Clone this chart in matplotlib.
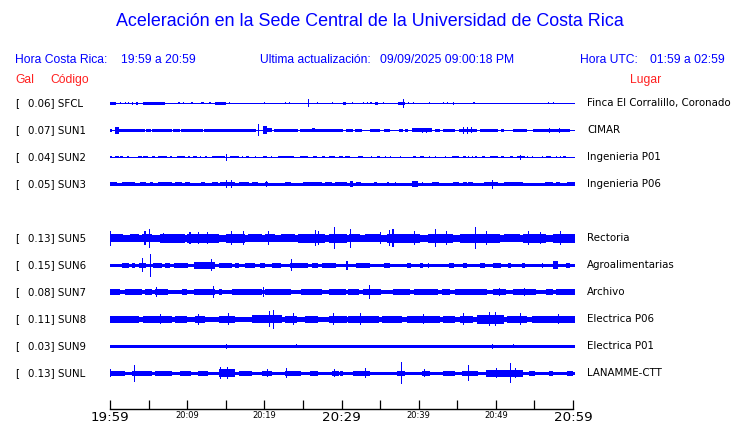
import matplotlib
matplotlib.use("Agg")
import matplotlib.pyplot as plt

# ---------------- data ----------------
W, H = 740, 423
title = "Aceleración en la Sede Central de la Universidad de Costa Rica"
hora_cr = "19:59 a 20:59"
hora_utc = "01:59 a 02:59"
actualizacion = "09/09/2025 09:00:18 PM"

codes = ["SFCL", "SUN1", "SUN2", "SUN3", "SUN5", "SUN6", "SUN7", "SUN8", "SUN9", "SUNL"]
gal = [0.06, 0.07, 0.04, 0.05, 0.13, 0.15, 0.08, 0.11, 0.03, 0.13]
sites = ["Finca El Corralillo, Coronado", "CIMAR", "Ingenieria P01", "Ingenieria P06",
         "Rectoria", "Agroalimentarias", "Archivo", "Electrica P06", "Electrica P01", "LANAMME-CTT"]
slots = [0, 1, 2, 3, 5, 6, 7, 8, 9, 10]   # SUN4 slot is empty

tick_minutes = [0, 5, 10, 15, 20, 25, 30, 35, 40, 45, 50, 55, 60]
tick_labels = ["19:59", "", "20:09", "", "20:19", "", "20:29", "", "20:39", "", "20:49", "", "20:59"]
major_labels = ["19:59", "20:29", "20:59"]

# trace envelopes: base half-amplitude, and bursts (start min, end min, half-amplitude)
base_SFCL = 0.5
ev_SFCL = [(0, 0.8, 1.3), (1.3, 1.4, 1), (1.9, 2.0, 1), (2.3, 2.4, 1), (2.8, 3.0, 1.3), (3.4, 3.6, 1.3),
           (4.3, 7.1, 1.3), (8.8, 9.0, 1), (9.4, 9.5, 1), (10.5, 10.7, 1), (11.8, 12.1, 1), (12.8, 13.0, 1),
           (13.6, 15.0, 1.3), (15.3, 15.4, 1), (19.9, 20.0, 1), (22.6, 22.7, 0.8), (23.1, 23.2, 0.8),
           (25.5, 25.6, 4), (26.7, 26.8, 1), (28.6, 28.7, 1), (30.0, 30.4, 1.3), (31.2, 31.3, 1),
           (32.6, 32.7, 1), (33.2, 33.3, 1), (33.6, 33.8, 1), (34.2, 34.6, 1.3), (35.2, 35.3, 1),
           (37.1, 38.0, 1.5), (37.8, 37.9, 4.3), (38.5, 38.6, 1), (39.1, 39.2, 1), (41.1, 41.2, 0.8),
           (43.0, 43.1, 1), (43.5, 43.6, 1), (44.2, 44.4, 1.3), (46.9, 47.0, 1), (56.5, 56.6, 1),
           (57.2, 57.3, 0.8)]
base_SUN1 = 0.6
ev_SUN1 = [(0.0, 0.3, 1.5), (0.7, 1.1, 3.3), (1.1, 4.5, 1.6), (4.6, 5.3, 1.4), (5.4, 8.0, 1.6), (8.1, 9.0, 1.5),
           (9.1, 12.0, 1.6), (12.1, 13.5, 1.5), (13.5, 18.9, 1.6), (19.1, 19.25, 6), (19.7, 20.2, 4),
           (20.2, 20.9, 2), (21.1, 24.2, 1.5), (24.5, 26.0, 1.5), (26.1, 26.4, 2), (26.5, 30.1, 1.5),
           (30.5, 31.4, 1.5), (31.6, 32.5, 1.5), (33.5, 34.8, 1.5), (35.3, 36.1, 1.5), (37.3, 37.8, 1.5),
           (38.1, 38.4, 1.5), (39.0, 41.6, 1.8), (40.2, 40.3, 2.7), (40.8, 40.9, 2.7), (41.9, 42.6, 1.5),
           (43.0, 44.5, 1.5), (45.0, 47.3, 1.6), (45.6, 45.7, 3.3), (46.1, 46.2, 3.3), (46.6, 46.7, 3),
           (47.8, 50.1, 1.5), (50.5, 50.9, 1.5),
           (52.0, 53.8, 1.5), (54.6, 59.3, 1.5), (56.6, 56.7, 2.3), (57.9, 58.0, 2.3)]
base_SUN2 = 0.5
ev_SUN2 = [(0, 0.2, 1.1), (0.6, 1.1, 1.1), (1.3, 1.7, 1.1), (2.2, 2.4, 1.1), (3.6, 4.1, 1.1), (4.3, 4.9, 1.1),
           (5.4, 5.8, 1.1), (6.2, 7.3, 1.1), (7.8, 8.0, 1.1), (8.6, 9.7, 1.1), (10.1, 10.3, 1.1),
           (10.7, 11.2, 1.1), (11.6, 11.8, 1.1), (12.3, 12.5, 1.1), (13.1, 14.8, 1.1), (14.95, 15.05, 3.3),
           (15.5, 16.6, 1.1), (17.0, 17.2, 1.1), (17.6, 17.9, 1.1), (18.7, 18.8, 1.1), (19.8, 20.2, 1.1),
           (20.8, 20.9, 1.1), (21.7, 23.7, 1.1), (24.5, 25.6, 1.1), (26.2, 26.7, 1.1), (27.3, 27.7, 1.1),
           (28.2, 29.0, 1.1), (29.5, 30.1, 1.1), (30.3, 31.0, 1.1), (32.0, 32.7, 1.1), (33.7, 33.8, 1.1),
           (34.5, 34.9, 1.1), (35.5, 35.6, 1.1), (36.1, 36.2, 1.1), (37.4, 37.5, 1.1), (39.1, 39.5, 1.1),
           (40.0, 40.5, 1.1), (41.1, 41.3, 1.1), (41.9, 42.1, 1.1), (43.2, 43.3, 1.1), (44.1, 45.0, 1.1),
           (45.6, 45.9, 1.1), (46.2, 46.3, 1.1), (46.7, 46.8, 1.1), (47.1, 47.3, 1.1), (48.0, 48.4, 1.1),
           (49.0, 50.1, 1.1), (50.5, 50.9, 1.1), (51.6, 52.0, 1.1), (52.5, 53.5, 1.1), (52.9, 53.0, 2.5),
           (53.8, 53.9, 1.1), (54.4, 54.5, 1.1), (55.7, 55.8, 1.1), (56.3, 56.9, 1.1), (57.6, 57.7, 1.1),
           (58.0, 58.1, 1.1), (58.5, 58.9, 1.1)]
base_SUN3 = 1.5
ev_SUN3 = [(0, 0.9, 2.2), (1.5, 3.2, 2.2), (3.9, 4.7, 2.2), (5.2, 5.6, 2.2), (6.2, 8.0, 2.2), (8.4, 9.3, 2.2),
           (9.7, 10.3, 2.2), (11.8, 12.3, 2.2), (13.1, 14.0, 2.2), (14.2, 16.1, 2.2), (14.95, 15.05, 4),
           (15.6, 15.75, 4), (16.6, 17.9, 2.2), (18.3, 19.1, 2.2), (20.0, 20.4, 2.2), (20.1, 20.25, 3),
           (22.6, 23.4, 2.2), (24.9, 27.3, 2.2), (27.7, 28.6, 2.2), (29.0, 30.6, 2.2), (31.0, 31.4, 3),
           (31.7, 32.4, 2.2), (34.1, 34.5, 2.2), (35.8, 35.9, 2.2), (36.8, 36.9, 2.2), (39.0, 39.8, 2.8),
           (40.2, 40.3, 2.2), (41.5, 42.4, 2.2), (44.3, 45.0, 2.2), (45.6, 46.0, 2.2), (46.2, 46.9, 2.2),
           (48.2, 50.1, 2.2), (49.25, 49.4, 4.5), (50.8, 53.3, 2.2), (56.1, 57.2, 2.2), (57.6, 58.1, 2.2),
           (59.0, 60.0, 2.2)]
base_SUN5 = 3.4
ev_SUN5 = [(0, 1.7, 4.2), (2.6, 3.7, 4.0), (4.1, 5.4, 4.2), (6.4, 9.7, 4.3), (9.9, 14.0, 4.3),
           (15.0, 17.4, 4.3), (17.8, 19.6, 4.0), (20.0, 21.3, 4.2), (22.0, 23.9, 4.0), (24.3, 27.7, 4.3),
           (28.2, 30.6, 4.3), (30.8, 32.3, 4.2), (32.9, 35.0, 4.0), (35.7, 40.0, 4.3), (41.0, 44.3, 4.3),
           (45.2, 50.3, 4.3), (50.9, 52.9, 4.0), (53.3, 56.3, 4.3), (57.2, 60.0, 4.3),
           (0.05, 0.15, 7.3), (4.45, 4.55, 7), (5.05, 5.15, 9.3), (6.85, 6.95, 5), (10.25, 10.35, 6),
           (11.35, 11.45, 6), (12.55, 12.65, 6), (15.65, 15.75, 7), (17.15, 17.25, 7), (20.35, 20.45, 7),
           (26.45, 26.55, 8), (26.85, 26.95, 7), (28.95, 29.05, 11), (30.95, 31.05, 9.3), (34.8, 34.9, 6),
           (36.05, 36.15, 8), (36.45, 36.55, 9), (39.25, 39.35, 7), (41.95, 42.05, 9), (43.35, 43.45, 7),
           (47.15, 47.25, 11), (48.55, 48.65, 7), (53.95, 54.05, 7), (55.45, 55.55, 6), (58.05, 58.15, 7)]
base_SUN6 = 1.7
ev_SUN6 = [(1.5, 2.4, 2.8), (2.8, 3.2, 2.6), (3.7, 4.7, 2.8), (4.15, 4.25, 7), (5.15, 5.25, 11.7), (5.6, 6.7, 2.6),
           (7.1, 7.7, 2.6), (8.2, 10.1, 2.8), (10.8, 13.6, 3.4), (13.05, 13.15, 6), (14.0, 15.7, 2.6), (16.1, 16.6, 2.6),
           (17.4, 18.7, 2.6), (19.4, 20.0, 2.6), (20.9, 22.0, 2.6), (23.2, 25.6, 2.8), (23.35, 23.45, 6),
           (26.0, 26.9, 2.6), (27.3, 29.2, 2.6), (30.5, 30.7, 4.5), (31.8, 33.5, 2.8), (35.3, 36.1, 2.8),
           (38.3, 38.9, 2.6), (40.0, 40.4, 2.6), (41.0, 41.2, 2.6), (43.8, 44.4, 2.6), (45.6, 46.1, 2.6),
           (47.7, 48.4, 2.6), (49.4, 50.5, 2.6), (51.4, 51.8, 2.6), (53.1, 53.6, 2.6), (55.7, 55.8, 2.6),
           (57.2, 57.8, 4), (58.9, 59.3, 2.6)]
base_SUN7 = 2.0
ev_SUN7 = [(0, 1.3, 2.9), (1.9, 4.1, 2.9), (4.5, 5.4, 2.9), (5.8, 7.5, 3), (5.95, 6.05, 5), (9.3, 9.9, 2.9),
           (10.8, 13.6, 3), (13.25, 13.35, 6), (14.0, 14.4, 2.9), (15.7, 19.6, 2.9), (19.75, 19.85, 5),
           (20.0, 23.4, 2.9), (24.7, 27.3, 2.9), (28.2, 30.5, 2.9), (30.7, 32.1, 2.9), (32.7, 35.0, 3),
           (33.45, 33.55, 7), (36.5, 38.7, 2.9), (39.2, 42.3, 2.9), (42.8, 43.9, 2.9), (44.5, 48.7, 3),
           (49.4, 51.1, 2.9), (50.15, 50.25, 4), (52.0, 55.0, 3), (53.45, 53.55, 4), (56.3, 57.2, 2.9),
           (57.6, 60.0, 2.9)]
base_SUN8 = 2.7
ev_SUN8 = [(0, 3.7, 3.6), (4.3, 8.0, 3.6), (8.4, 9.9, 3.6), (11.0, 12.3, 3.6), (14.0, 16.1, 3.8),
           (18.3, 22.2, 4.0), (22.6, 24.1, 3.6), (25.2, 26.9, 3.6), (28.2, 30.6, 3.6), (30.7, 34.7, 3.6),
           (35.1, 37.7, 3.6), (38.3, 42.6, 3.6), (43.0, 44.5, 3.6), (45.2, 46.9, 3.6), (47.3, 50.8, 4.3),
           (51.2, 53.8, 3.6), (54.4, 60.0, 3.6),
           (6.45, 6.55, 5), (11.35, 11.45, 5.5), (15.25, 15.35, 6), (20.55, 20.65, 8), (21.05, 21.15, 9.5),
           (23.65, 23.75, 6), (28.75, 28.85, 6), (32.25, 32.35, 6), (40.35, 40.45, 5), (45.55, 45.65, 6),
           (48.85, 48.95, 7), (49.65, 49.75, 7), (52.85, 52.95, 6), (57.75, 57.85, 5)]
base_SUN9 = 1.7
ev_SUN9 = [(0.0, 1.0, 1.8), (14.95, 15.1, 2.5), (49.25, 49.4, 2.5), (24.0, 24.1, 2.0), (52.0, 52.1, 2.0)]
base_SUNL = 1.8
ev_SUNL = [(0, 1.9, 2.8), (0.05, 0.15, 4), (2.8, 5.4, 2.8), (3.05, 3.15, 8.3), (5.8, 8.0, 2.8), (9.0, 10.5, 2.8),
           (11.4, 12.7, 2.8), (14.0, 16.1, 4.0), (14.15, 14.25, 6), (15.15, 15.25, 6), (16.6, 18.3, 2.8),
           (19.6, 20.9, 2.8), (20.25, 20.35, 4), (22.6, 24.7, 2.8), (22.75, 22.85, 5), (25.8, 26.9, 2.8),
           (28.6, 29.5, 2.8), (28.85, 28.95, 4), (29.7, 30.1, 2.8), (31.4, 33.6, 2.8), (32.95, 33.05, 5),
           (37.0, 38.1, 2.8), (37.55, 37.65, 11), (40.2, 41.3, 2.8), (40.55, 40.65, 4), (43.0, 44.5, 2.8),
           (45.4, 47.5, 2.8), (46.15, 46.25, 8), (48.5, 53.3, 3.5), (49.75, 49.85, 5), (51.65, 51.75, 10),
           (52.25, 52.35, 5), (54.0, 54.9, 2.8), (56.6, 57.2, 2.8), (59.0, 59.8, 2.8)]

bases = [base_SFCL, base_SUN1, base_SUN2, base_SUN3, base_SUN5, base_SUN6, base_SUN7, base_SUN8, base_SUN9, base_SUNL]
events = [ev_SFCL, ev_SUN1, ev_SUN2, ev_SUN3, ev_SUN5, ev_SUN6, ev_SUN7, ev_SUN8, ev_SUN9, ev_SUNL]

# ---------------- layout / style ----------------
BLUE = "#0000ff"
RED = "#ff2020"
SANS = "Liberation Sans"
TXT = "DejaVu Sans"
x0_px, x1_px = 110, 575
first_y, step_y = 103.3, 27.0     # pixel centre of slot 0 and spacing
px_per_unit = step_y

fig = plt.figure(figsize=(W / 100, H / 100), dpi=100)

def fx(x):
    return x / W

def fy(y):
    return 1 - y / H

# trace axes: x in minutes, y in slot units (inverted), spans full figure height
ax = fig.add_axes([fx(x0_px), 0, (x1_px - x0_px) / W, 1])
ax.set_xlim(0, 60)
ax.set_ylim((H - first_y) / step_y, -first_y / step_y)
ax.axis("off")

for slot, base, evs in zip(slots, bases, events):
    hb = base / px_per_unit
    ax.bar(0, 2 * hb, width=60, bottom=slot - hb, align="edge", color=BLUE, linewidth=0)
    for (m0, m1, h) in evs:
        hu = h / px_per_unit
        ax.bar(m0, 2 * hu, width=max(m1 - m0, 0.14), bottom=slot - hu, align="edge",
               color=BLUE, linewidth=0)

# labels
for slot, c, g, s in zip(slots, codes, gal, sites):
    y = first_y + slot * step_y
    fig.text(fx(15), fy(y), "[", fontsize=7.4, family=TXT, va="center", ha="left")
    fig.text(fx(28), fy(y), f"{g:.2f}] {c}", fontsize=7.4, family=TXT, va="center", ha="left")
    fig.text(fx(587), fy(y), s, fontsize=7.4, family=TXT, va="center", ha="left")

# titles / header
fig.text(0.5, fy(22), title, fontsize=12.9, family=SANS, color=BLUE, ha="center", va="center")
fig.text(fx(15), fy(60), "Hora Costa Rica:", fontsize=8.7, family=SANS, color=BLUE, va="center")
fig.text(fx(121), fy(60), hora_cr, fontsize=8.7, family=SANS, color=BLUE, va="center")
fig.text(fx(260), fy(60), "Ultima actualización:", fontsize=8.7, family=SANS, color=BLUE, va="center")
fig.text(fx(380), fy(60), actualizacion, fontsize=8.7, family=SANS, color=BLUE, va="center")
fig.text(fx(580), fy(60), "Hora UTC:", fontsize=8.7, family=SANS, color=BLUE, va="center")
fig.text(fx(650), fy(60), hora_utc, fontsize=8.7, family=SANS, color=BLUE, va="center")
fig.text(fx(15), fy(80), "Gal", fontsize=8.7, family=SANS, color=RED, va="center")
fig.text(fx(50), fy(80), "Código", fontsize=8.7, family=SANS, color=RED, va="center")
fig.text(fx(630), fy(80), "Lugar", fontsize=8.7, family=SANS, color=RED, va="center")

# time axis
ax2 = fig.add_axes([fx(110), fy(409), (573 - 110) / W, 0.02])
ax2.set_xlim(0, 60)
for sp in ["top", "left", "right"]:
    ax2.spines[sp].set_visible(False)
ax2.spines["bottom"].set_linewidth(1.0)
ax2.set_yticks([])
ax2.patch.set_alpha(0)
ax2.set_xticks(tick_minutes)
ax2.set_xticklabels(tick_labels)
ax2.tick_params(axis="x", direction="in", length=6.5, width=0.9, pad=1.5)
for lab in ax2.get_xticklabels():
    if lab.get_text() in major_labels:
        lab.set_fontsize(9.6)
    else:
        lab.set_fontsize(6)
    lab.set_family(TXT)

fig.savefig("out.png", dpi=100)
